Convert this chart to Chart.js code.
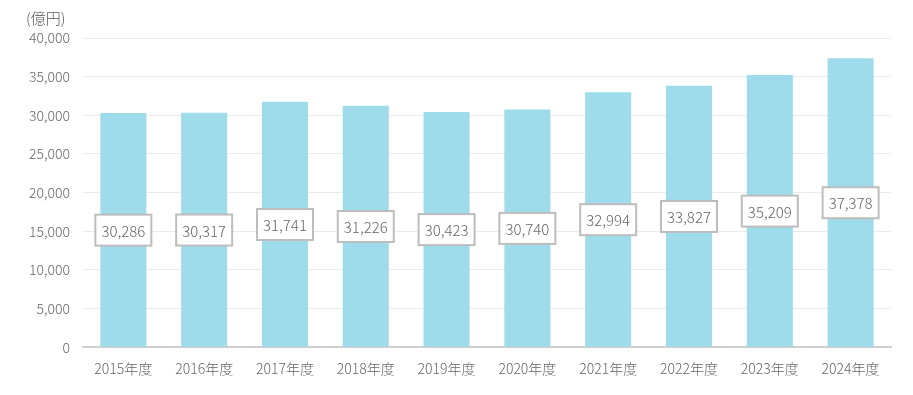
<!DOCTYPE html>
<html>
<head>
<meta charset="utf-8">
<script src="https://cdn.jsdelivr.net/npm/chart.js@4"></script>
<style>
  html, body { margin: 0; padding: 0; background: #fff; }
  #wrap { position: relative; width: 913px; height: 395px; }
</style>
</head>
<body>
<div id="wrap"><canvas id="chart-sales"></canvas></div>
<script>
var years = ['2015年度', '2016年度', '2017年度', '2018年度', '2019年度', '2020年度', '2021年度', '2022年度', '2023年度', '2024年度'];
var sales = [30286, 30317, 31741, 31226, 30423, 30740, 32994, 33827, 35209, 37378];
var unitLabel = '(億円)';

var fontFamily = '"Noto Sans CJK JP", "Noto Sans", sans-serif';

// ラベルを棒の中ほどに枠付きで描く
var boxLabels = {
    id: 'boxLabels',
    afterDatasetsDraw: function(chart) {
        var ctx = chart.ctx;
        var meta = chart.getDatasetMeta(0);
        var yScale = chart.scales.y;
        ctx.save();
        ctx.font = '300 15px ' + fontFamily;
        ctx.textAlign = 'center';
        ctx.textBaseline = 'middle';
        meta.data.forEach(function(bar, i) {
            var v = sales[i];
            var y = yScale.getPixelForValue(v / 2);
            var w = 56, h = 31;
            ctx.fillStyle = '#fff';
            ctx.fillRect(bar.x - w / 2, y - h / 2, w, h);
            ctx.lineWidth = 2;
            ctx.strokeStyle = '#bdbdbd';
            ctx.strokeRect(bar.x - w / 2, y - h / 2, w, h);
            ctx.fillStyle = '#666';
            ctx.fillText(v.toLocaleString('en-US'), bar.x, y + 1);
        });
        // 単位
        ctx.font = '300 15px ' + fontFamily;
        ctx.textAlign = 'left';
        ctx.fillStyle = '#555';
        ctx.fillText(unitLabel, 26, 18);
        ctx.restore();
    }
};

new Chart(document.getElementById('chart-sales'), {
    type: 'bar',
    data: {
        labels: years,
        datasets: [{
            data: sales,
            backgroundColor: '#9edcec',
            barPercentage: 0.57,
            categoryPercentage: 1.0
        }]
    },
    options: {
        responsive: true, maintainAspectRatio: false,
        animation: false,
        layout: { padding: { top: 38, right: 22, left: 16, bottom: 13 } },
        plugins: { legend: { display: false }, tooltip: { enabled: false } },
        scales: {
            y: {
                min: 0, max: 40000,
                ticks: {
                    stepSize: 5000, color: '#666', padding: 13,
                    font: { size: 14, family: fontFamily, weight: 300 },
                    callback: function(v) { return v.toLocaleString('en-US'); }
                },
                grid: { color: '#ebebeb', drawTicks: false },
                border: { display: false }
            },
            x: {
                ticks: { color: '#666', padding: 5, font: { size: 14, family: fontFamily, weight: 300 } },
                grid: { display: false },
                border: { color: '#cfcfcf', width: 2 }
            }
        }
    },
    plugins: [boxLabels]
});
</script>
</body>
</html>
